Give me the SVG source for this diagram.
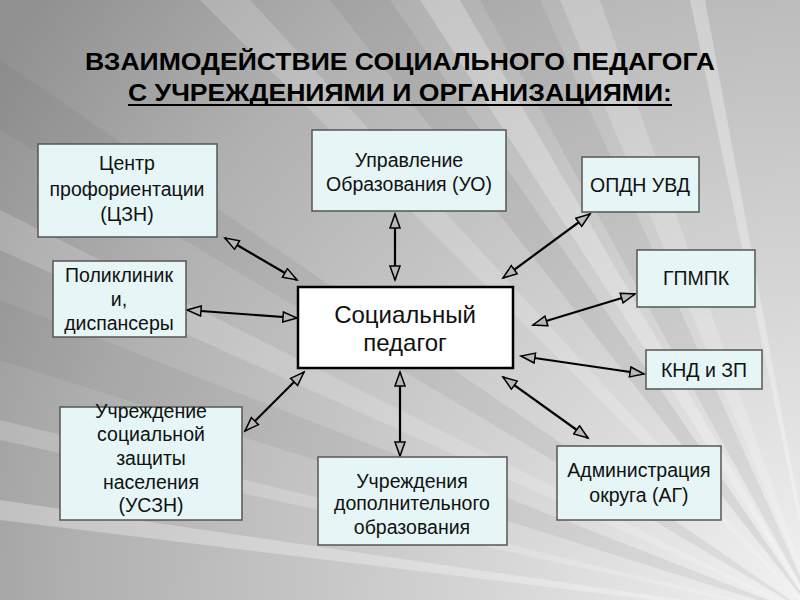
<svg xmlns="http://www.w3.org/2000/svg" width="800" height="600" viewBox="0 0 800 600">
<defs>
<radialGradient id="bg" cx="820" cy="620" r="1000" gradientUnits="userSpaceOnUse">
<stop offset="0" stop-color="#f4f4f4"/>
<stop offset="0.35" stop-color="#d4d4d4"/>
<stop offset="0.75" stop-color="#b0b0b0"/>
<stop offset="1" stop-color="#909090"/>
</radialGradient>
<marker id="ah" markerWidth="18" markerHeight="12" refX="15" refY="6" orient="auto-start-reverse" markerUnits="userSpaceOnUse">
<path d="M1,1 L15,6 L1,11 Z" fill="#b8b8b8" stroke="#000" stroke-width="1.5" stroke-linejoin="miter"/>
</marker>
<style>
.box{fill:#e6f6f6;stroke:#555;stroke-width:1.5}
.main{fill:#fff;stroke:#000;stroke-width:2.5}
.t{font-family:"Liberation Sans",Arial,sans-serif;font-size:19.5px;fill:#111;text-anchor:middle}
.tm{font-family:"Liberation Sans",Arial,sans-serif;font-size:24px;fill:#111;text-anchor:middle}
.title{font-family:"Liberation Sans",Arial,sans-serif;font-weight:bold;font-size:24px;fill:#000;text-anchor:middle}
.c line{stroke:#000;stroke-width:2.2;marker-start:url(#ah);marker-end:url(#ah)}
.ray{fill:#ffffff}
.dray{fill:#606060}
</style>
</defs>
<rect width="800" height="600" fill="url(#bg)"/>
<g id="rays">
<polygon class="ray" opacity="0.25" points="820,620 420,0 460,0"/>
<polygon class="ray" opacity="0.2" points="820,620 560,0 600,0"/>
<polygon class="ray" opacity="0.3" points="820,620 690,0 705,0"/>
<polygon class="ray" opacity="0.18" points="820,620 0,210 0,250"/>
<polygon class="ray" opacity="0.2" points="820,620 0,420 0,440"/>
<polygon class="ray" opacity="0.3" points="820,620 0,500 0,520"/>
<polygon class="ray" opacity="0.18" points="820,620 200,0 250,0"/>
<polygon class="dray" opacity="0.12" points="820,620 330,0 390,0"/>
<polygon class="dray" opacity="0.1" points="820,620 0,60 0,130"/>
<polygon class="dray" opacity="0.1" points="820,620 0,300 0,360"/>
<polygon class="dray" opacity="0.1" points="820,620 480,0 540,0"/>
</g>
<g id="title">
<text class="title" x="400" y="70" textLength="630" lengthAdjust="spacingAndGlyphs">ВЗАИМОДЕЙСТВИЕ СОЦИАЛЬНОГО ПЕДАГОГА</text>
<text class="title" x="400" y="101" textLength="544" lengthAdjust="spacingAndGlyphs">С УЧРЕЖДЕНИЯМИ И ОРГАНИЗАЦИЯМИ:</text>
<line x1="128" y1="105" x2="672" y2="105" stroke="#000" stroke-width="2"/>
</g>
<g id="connectors" class="c">
<line x1="225" y1="238" x2="297" y2="280"/>
<line x1="187" y1="310" x2="297" y2="318"/>
<line x1="395" y1="214" x2="395" y2="280"/>
<line x1="590" y1="214" x2="503" y2="278"/>
<line x1="533" y1="325" x2="635" y2="294"/>
<line x1="521" y1="356" x2="644" y2="374"/>
<line x1="503" y1="377" x2="588" y2="438"/>
<line x1="245" y1="431" x2="304" y2="372"/>
<line x1="400" y1="372" x2="400" y2="456"/>
</g>
<g id="n-czn">
<rect class="box" x="38" y="144" width="179" height="93"/>
<text class="t" x="127" y="170">Центр</text>
<text class="t" x="127" y="196">профориентации</text>
<text class="t" x="127" y="221">(ЦЗН)</text>
</g>
<g id="n-uo">
<rect class="box" x="312" y="130" width="194" height="81"/>
<text class="t" x="409" y="167">Управление</text>
<text class="t" x="409" y="191">Образования (УО)</text>
</g>
<g id="n-opdn">
<rect class="box" x="582" y="157" width="117" height="55"/>
<text class="t" x="640" y="192">ОПДН УВД</text>
</g>
<g id="n-poli">
<rect class="box" x="53" y="261" width="133" height="76"/>
<text class="t" x="119" y="282">Поликлиник</text>
<text class="t" x="119" y="306">и,</text>
<text class="t" x="119" y="330">диспансеры</text>
</g>
<g id="n-gpmpk">
<rect class="box" x="637" y="250" width="118" height="57"/>
<text class="t" x="696" y="285">ГПМПК</text>
</g>
<g id="n-main">
<rect class="main" x="298" y="287" width="215" height="81"/>
<text class="tm" x="405" y="323">Социальный</text>
<text class="tm" x="405" y="351">педагог</text>
</g>
<g id="n-knd">
<rect class="box" x="646" y="350" width="116" height="39"/>
<text class="t" x="704" y="377">КНД и ЗП</text>
</g>
<g id="n-uszn">
<rect class="box" x="60" y="407" width="182" height="113"/>
<text class="t" x="151" y="418">Учреждение</text>
<text class="t" x="151" y="441">социальной</text>
<text class="t" x="151" y="465">защиты</text>
<text class="t" x="151" y="489">населения</text>
<text class="t" x="151" y="512">(УСЗН)</text>
</g>
<g id="n-dop">
<rect class="box" x="318" y="457" width="189" height="88"/>
<text class="t" x="412" y="488">Учреждения</text>
<text class="t" x="412" y="510">дополнительного</text>
<text class="t" x="412" y="534">образования</text>
</g>
<g id="n-ag">
<rect class="box" x="557" y="446" width="164" height="74"/>
<text class="t" x="639" y="477">Администрация</text>
<text class="t" x="639" y="502">округа (АГ)</text>
</g>
</svg>
